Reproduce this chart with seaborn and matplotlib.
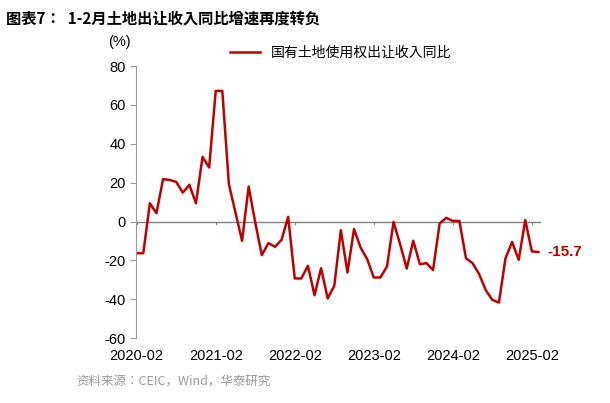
import numpy as np
import pandas as pd
import matplotlib.pyplot as plt
import seaborn as sns
from matplotlib import font_manager as fm

plt.rcParams['font.family'] = ['Liberation Sans']
plt.rcParams['axes.unicode_minus'] = False

# locate a CJK font file
cjk_files = [f for f in fm.findSystemFonts() if 'CJK' in f or 'cjk' in f.lower()]
cjk_files.sort(key=lambda f: ('Regular' not in f, f))
cjk_bold = [f for f in cjk_files if 'Bold' in f]
CJK = fm.FontProperties(fname=cjk_files[0]) if cjk_files else fm.FontProperties(family='Noto Sans CJK SC')
CJK_B = fm.FontProperties(fname=cjk_bold[0]) if cjk_bold else CJK
print(cjk_files[:5])

# monthly series, Jan shown equal to Jan-Feb cumulative
values = [
    -16.3, -16.3, 9.4, 4.3, 21.8, 21.4, 20.4, 14.9, 18.9, 9.4, 33.3, 27.8,
    67.2, 67.2, 19.2, 4.6, -9.9, 18.0, -0.5, -17.3, -11.1, -13.0, -9.4, 2.4,
    -29.3, -29.3, -22.8, -37.9, -24.0, -39.6, -33.1, -4.5, -26.2, -3.9, -13.4, -19.4,
    -28.8, -28.8, -23.2, -0.2, -11.7, -24.2, -9.9, -22.0, -21.4, -25.0, -1.0, 1.9,
    0.3, 0.3, -18.9, -21.4, -27.1, -35.3, -40.3, -41.7, -18.9, -10.5, -19.7, 0.7,
    -15.4, -15.7,
]
tick_labels = ['2020-02', '2021-02', '2022-02', '2023-02', '2024-02', '2025-02']
series_name = '国有土地使用权出让收入同比'

df = pd.DataFrame({'idx': np.arange(len(values)), 'val': values})
red = '#C00000'

fig = plt.figure(figsize=(6.10, 4.03), dpi=100)
ax = fig.add_axes([0.223, 0.161, 0.664, 0.675])

sns.lineplot(data=df, x='idx', y='val', ax=ax, color=red, linewidth=1.8,
             label=series_name)

ax.set_xlim(-0.1, 61.4)
ax.set_ylim(-60, 80)
ax.set_yticks(range(-60, 81, 20))
ax.set_xticks(range(0, 61, 12))
ax.set_xticklabels(tick_labels)
ax.tick_params(axis='x', length=0, labelsize=10.5, pad=8)
ax.tick_params(axis='y', labelsize=10.5, color='#999999', length=4)
ax.set_xlabel('')
ax.set_ylabel('')
for s in ['top', 'right', 'bottom']:
    ax.spines[s].set_visible(False)
ax.spines['left'].set_color('#999999')

# zero line with small ticks
ax.axhline(0, color='#808080', linewidth=1, zorder=1)
for t in range(0, 61, 12):
    ax.plot([t, t], [0, -1.5], color='#808080', linewidth=0.8, zorder=1)

ax.text(62.3, values[-1], f'{values[-1]}', color=red, fontsize=11,
        fontweight='bold', va='center', ha='left', clip_on=False)

prop = CJK.copy()
prop.set_size(10)
ax.legend(loc='upper left', bbox_to_anchor=(0.2, 1.12), frameon=False,
          prop=prop, handlelength=2.2)

fig.text(0.178, 0.885, '(%)', fontsize=10.5, ha='left')
tp = CJK_B.copy()
tp.set_size(11)
tp.set_weight('bold')
fig.text(0.01, 0.955, '图表7：  1-2月土地出让收入同比增速再度转负',
         fontproperties=tp, ha='left', va='center')
sp = CJK.copy()
sp.set_size(9)
fig.text(0.125, 0.045, '资料来源：CEIC，Wind，华泰研究', fontproperties=sp,
         color='#999999', ha='left')

fig.savefig('out.png', dpi=100)
